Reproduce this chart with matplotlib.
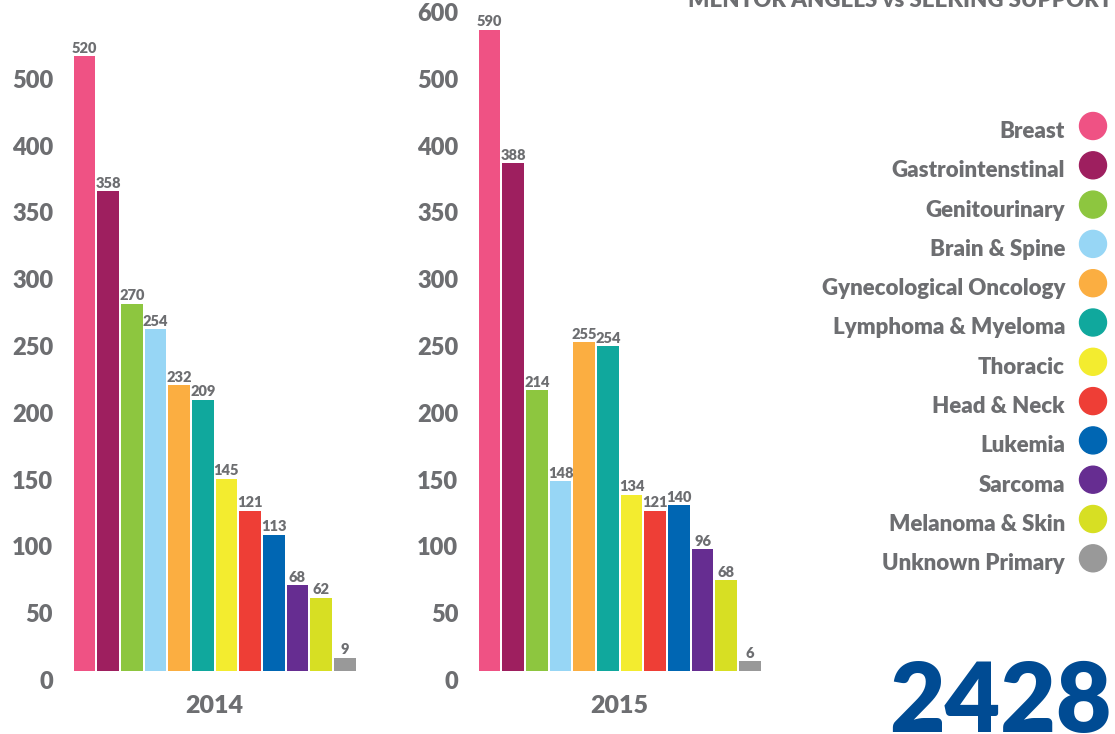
import matplotlib
matplotlib.use("Agg")
import numpy as np
import matplotlib.pyplot as plt
from matplotlib.transforms import ScaledTranslation, IdentityTransform

plt.rcParams["font.family"] = ["Lato", "DejaVu Sans"]

# ---- data ----
categories = ["Breast", "Gastrointenstinal", "Genitourinary", "Brain & Spine",
              "Gynecological Oncology", "Lymphoma & Myeloma", "Thoracic",
              "Head & Neck", "Lukemia", "Sarcoma", "Melanoma & Skin",
              "Unknown Primary"]
colors = ["#ef5284", "#9e1f5f", "#8dc63f", "#97d6f5", "#fbae41", "#10a89d",
          "#f3ec2f", "#ee3e36", "#0066b3", "#662d91", "#d7df23", "#999999"]
counts_2014 = [520, 358, 270, 254, 232, 209, 145, 121, 113, 68, 62, 9]
counts_2015 = [590, 388, 214, 148, 255, 254, 134, 121, 140, 96, 68, 6]
# bar lengths as drawn in the source graphic (not exactly to scale)
drawn_2014 = [460, 359, 275, 256, 214, 203, 144, 120, 102, 64, 55, 10]
drawn_2015 = [480, 380, 210, 142, 246, 243, 132, 120, 124, 91, 68, 7.5]
tick_pos_2014 = [0, 50, 100, 150, 200, 250, 300, 350, 400, 450]
tick_lab_2014 = ["0", "50", "100", "150", "200", "250", "300", "350", "400", "500"]
tick_pos_2015 = [0, 50, 100, 150, 200, 250, 300, 350, 400, 450, 500]
tick_lab_2015 = ["0", "50", "100", "150", "200", "250", "300", "350", "400", "500", "600"]
years = ["2014", "2015"]
total = "2428"

GREY = "#6d6e71"
WT = "heavy"
W, H = 1115, 734
fig = plt.figure(figsize=(W / 100, H / 100), dpi=100)

def panel(left_px, drawn, counts, tpos, tlab, year):
    ax = fig.add_axes([left_px / W, 63 / H, 284 / W, 668 / H])
    x = np.arange(len(drawn))
    ax.bar(x, drawn, width=0.92, color=colors)
    for xi, h, c in zip(x, drawn, counts):
        ax.text(xi, h + 1, str(c), ha="center", va="bottom", fontsize=10.5,
                color=GREY, fontweight=WT)
    ax.set_xlim(-0.5, 11.5)
    ax.set_ylim(0, 500)
    ax.set_xticks([])
    ax.set_yticks(tpos)
    ax.set_yticklabels(tlab, fontsize=17, color=GREY, fontweight=WT)
    ax.tick_params(axis="y", length=0, pad=14)
    off = ScaledTranslation(0, -9 / 100, fig.dpi_scale_trans)
    for lab in ax.get_yticklabels():
        lab.set_transform(lab.get_transform() + off)
    for s in ax.spines.values():
        s.set_visible(False)
    ax.text(5.5, -35 / 1.336, year, ha="center", va="center", fontsize=18,
            color=GREY, fontweight=WT, clip_on=False)
    return ax

panel(72.6, drawn_2014, counts_2014, tick_pos_2014, tick_lab_2014, years[0])
panel(477.7, drawn_2015, counts_2015, tick_pos_2015, tick_lab_2015, years[1])

# ---- legend ----
for i, (name, col) in enumerate(zip(categories, colors)):
    ypx = 126 + i * 39.3
    fig.text(1065 / W, 1 - (ypx + 12) / H, name, ha="right", va="baseline",
             fontsize=16, color=GREY, fontweight=WT)
    fig.patches.append(plt.Circle((1093, H - ypx), 13.5,
                                  transform=IdentityTransform(), color=col))

fig.text(688 / W, 1 - 7 / H, "MENTOR ANGELS vs SEEKING SUPPORT", ha="left",
         va="baseline", fontsize=16, color=GREY, fontweight=WT)
fig.text(1112 / W, 2 / H, total, ha="right", va="baseline", fontsize=69,
         color="#004b93", fontweight=WT)

fig.savefig("out.png", dpi=100)
